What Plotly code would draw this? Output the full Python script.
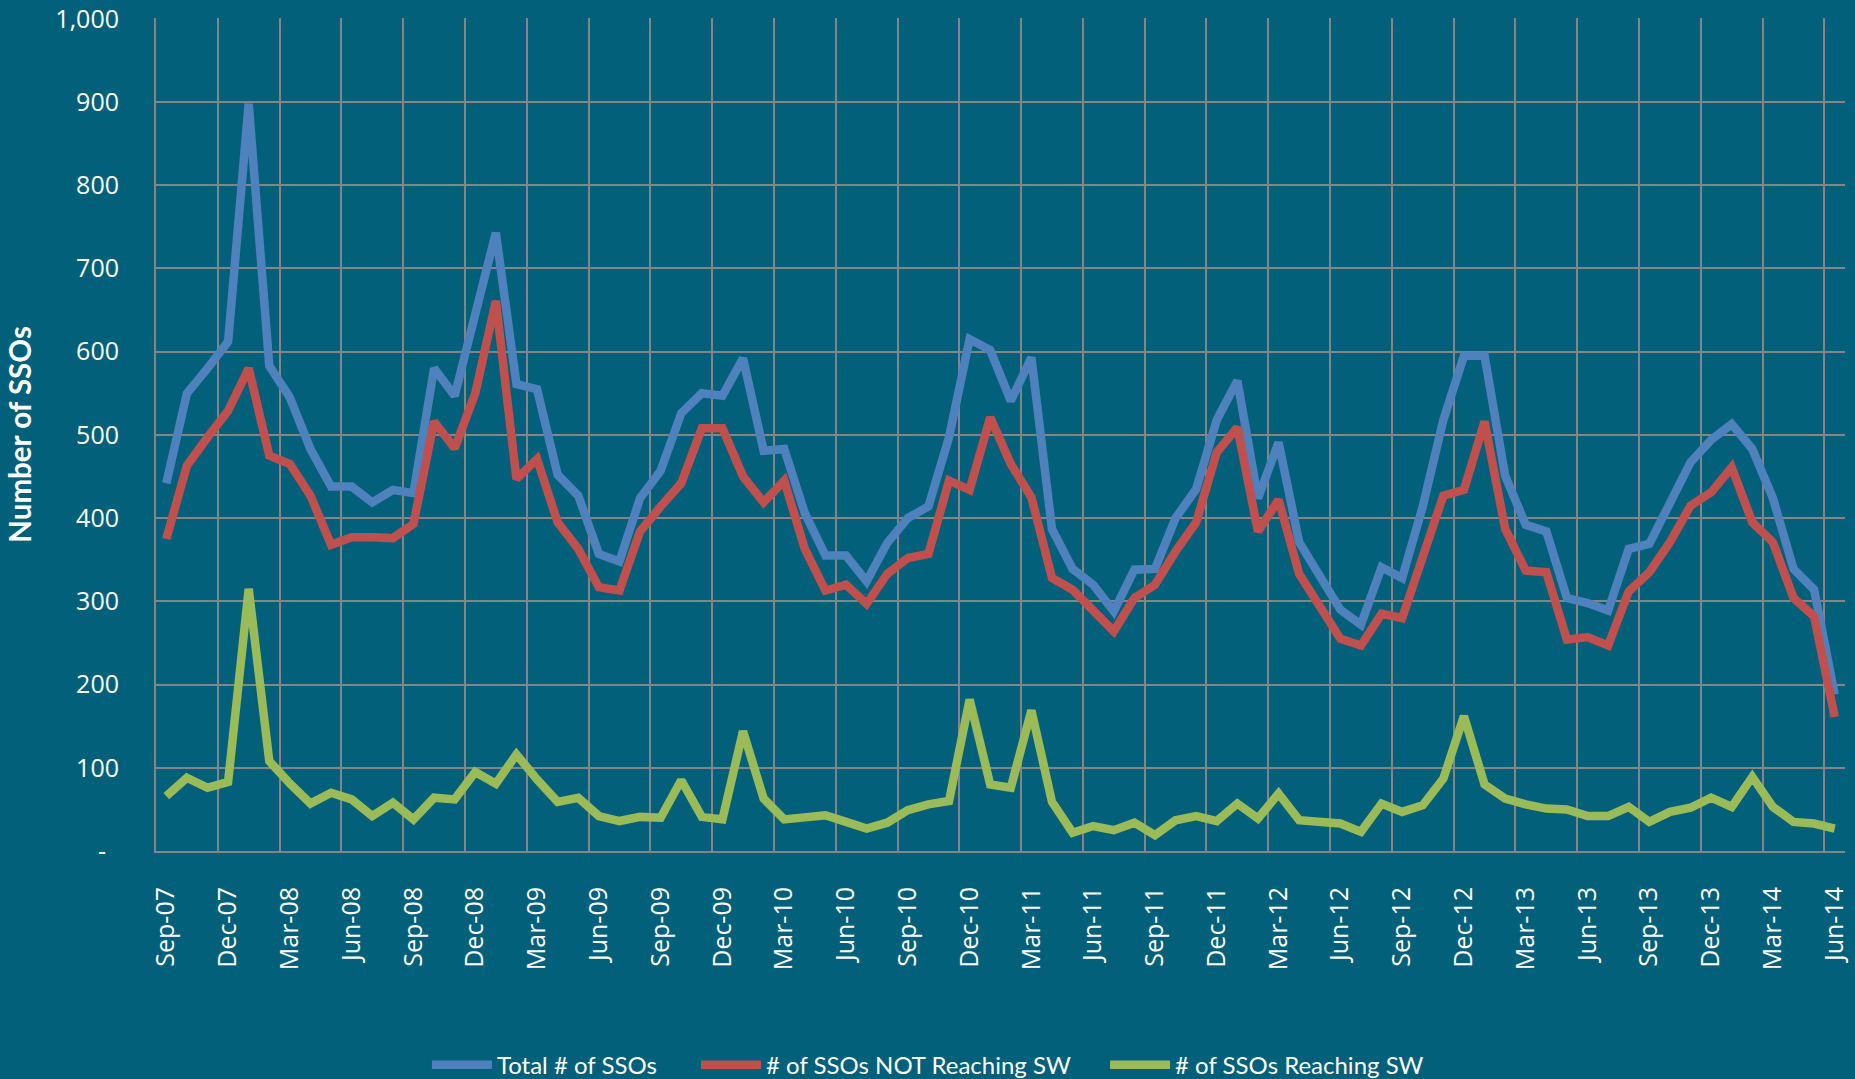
import plotly.graph_objects as go

months = ["Sep-07","Oct-07","Nov-07","Dec-07","Jan-08","Feb-08","Mar-08","Apr-08","May-08","Jun-08","Jul-08","Aug-08",
          "Sep-08","Oct-08","Nov-08","Dec-08","Jan-09","Feb-09","Mar-09","Apr-09","May-09","Jun-09","Jul-09","Aug-09",
          "Sep-09","Oct-09","Nov-09","Dec-09","Jan-10","Feb-10","Mar-10","Apr-10","May-10","Jun-10","Jul-10","Aug-10",
          "Sep-10","Oct-10","Nov-10","Dec-10","Jan-11","Feb-11","Mar-11","Apr-11","May-11","Jun-11","Jul-11","Aug-11",
          "Sep-11","Oct-11","Nov-11","Dec-11","Jan-12","Feb-12","Mar-12","Apr-12","May-12","Jun-12","Jul-12","Aug-12",
          "Sep-12","Oct-12","Nov-12","Dec-12","Jan-13","Feb-13","Mar-13","Apr-13","May-13","Jun-13","Jul-13","Aug-13",
          "Sep-13","Oct-13","Nov-13","Dec-13","Jan-14","Feb-14","Mar-14","Apr-14","May-14","Jun-14"]

total_ssos = [442, 550, 580, 612, 898, 583, 545, 483, 438, 438, 419, 434,
              430, 580, 547, 645, 743, 561, 555, 452, 427, 357, 348, 424,
              457, 526, 550, 547, 592, 481, 483, 406, 355, 355, 324, 370,
              400, 414, 497, 615, 602, 541, 593, 387, 339, 320, 288, 338,
              339, 400, 435, 518, 565, 424, 491, 371, 331, 290, 272, 341,
              328, 414, 518, 595, 595, 451, 392, 384, 304, 298, 289, 363,
              369, 419, 467, 494, 513, 483, 424, 339, 314, 188]

not_reaching_sw = [375, 463, 497, 529, 580, 475, 465, 427, 368, 377, 377, 376,
                   393, 516, 484, 550, 661, 447, 471, 395, 363, 317, 313, 384,
                   414, 442, 508, 508, 450, 419, 445, 363, 313, 320, 297, 333,
                   352, 357, 445, 434, 521, 465, 425, 328, 314, 290, 264, 304,
                   320, 360, 395, 479, 509, 384, 422, 333, 296, 255, 247, 285,
                   280, 355, 427, 434, 516, 387, 337, 335, 254, 257, 247, 312,
                   335, 371, 415, 431, 461, 395, 371, 304, 282, 161]

reaching_sw = [66, 88, 76, 83, 315, 108, 81, 57, 70, 62, 42, 58,
               38, 64, 62, 95, 81, 116, 86, 59, 64, 42, 36, 41,
               40, 85, 41, 38, 144, 63, 38, 41, 43, 35, 27, 34,
               49, 56, 60, 182, 80, 76, 169, 59, 22, 30, 25, 34,
               19, 37, 42, 36, 57, 39, 69, 37, 35, 33, 23, 57,
               47, 55, 87, 162, 80, 63, 56, 51, 50, 42, 42, 53,
               35, 47, 52, 64, 53, 89, 53, 35, 33, 27]

y_tick_vals = [0, 100, 200, 300, 400, 500, 600, 700, 800, 900, 1000]
y_tick_text = ["-\u00a0\u00a0", "100", "200", "300", "400", "500", "600", "700", "800", "900", "1,000"]

series_names = ["Total # of SSOs", "# of SSOs NOT Reaching SW", "# of SSOs Reaching SW"]
series_colors = ["#4F81BD", "#C0504D", "#9BBB59"]
legend_ids = ["legend", "legend2", "legend3"]
legend_x = [0.1604, 0.3197, 0.5619]

BG = "#03607A"
GRID = "#858585"

idx = list(range(len(months)))
x_tick_vals = idx[::3]
x_tick_text = months[::3]

fig = go.Figure()
for name, vals, col, lg in zip(series_names, [total_ssos, not_reaching_sw, reaching_sw], series_colors, legend_ids):
    fig.add_trace(go.Scatter(x=idx, y=vals, name=name, mode="lines", legend=lg,
                             line=dict(color=col, width=8.5, shape="linear"),
                             hoverinfo="x+y"))

legend_common = dict(orientation="h", xanchor="left", y=-0.257, yanchor="middle",
                     font=dict(family="Lato", size=24, color="white"),
                     bgcolor="rgba(0,0,0,0)", itemwidth=60)

fig.update_layout(
    width=1855, height=1079,
    paper_bgcolor=BG, plot_bgcolor=BG,
    margin=dict(l=156, r=10, t=18, b=228, autoexpand=False),
    showlegend=True,
    legend=dict(x=legend_x[0], **legend_common),
    legend2=dict(x=legend_x[1], **legend_common),
    legend3=dict(x=legend_x[2], **legend_common),
    font=dict(family="Open Sans", color="white"),
)

fig.update_xaxes(
    range=[-0.5, len(months) - 0.5],
    tickmode="array", tickvals=x_tick_vals, ticktext=x_tick_text,
    tickangle=-90, tickfont=dict(family="Open Sans", size=25, color="white"),
    showgrid=False, zeroline=False,
    showline=True, linecolor=GRID, linewidth=2,
    ticks="", ticklabelstandoff=24,
    minor=dict(tick0=-0.5, dtick=3, showgrid=True, gridcolor=GRID, gridwidth=2, ticks=""),
)

fig.update_yaxes(
    range=[0, 1001],
    tickmode="array", tickvals=y_tick_vals, ticktext=y_tick_text,
    tickfont=dict(family="Open Sans", size=25, color="white"),
    showgrid=True, gridcolor=GRID, gridwidth=2,
    zeroline=False, showline=True, linecolor=GRID, linewidth=2,
    ticks="", ticklabelstandoff=30,
)

fig.add_annotation(text="<b>Number of SSOs</b>", xref="paper", yref="paper",
                   x=-0.0810, y=0.5, xanchor="center", yanchor="middle",
                   textangle=-90, showarrow=False,
                   font=dict(family="Lato", size=29.5, color="white"))

fig.write_html("out.html", config={"displayModeBar": False},
               post_script="document.body.style.margin='0';document.body.style.padding='0';document.body.style.overflow='hidden';document.body.style.background='" + BG + "';")
